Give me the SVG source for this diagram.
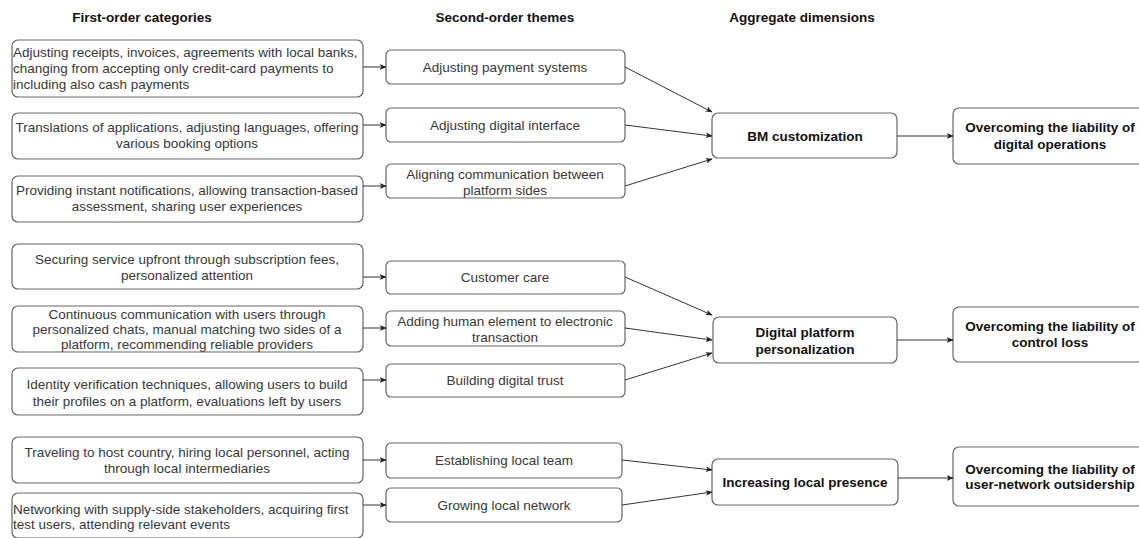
<svg xmlns="http://www.w3.org/2000/svg" width="1139" height="538" viewBox="0 0 1139 538">
<defs>
<marker id="ah" viewBox="0 0 10 10" refX="9" refY="5" markerWidth="7" markerHeight="7" markerUnits="userSpaceOnUse" orient="auto">
<path d="M0,1 L10,5 L0,9 L2.5,5 Z" fill="#222"/>
</marker>
<style>
.bx{fill:#fff;stroke:#666;stroke-width:1.2}
.t{font-family:"Liberation Sans",Arial,sans-serif;font-size:13.5px;fill:#383838}
.c{text-anchor:middle}
.b{font-weight:bold;fill:#111}
.h{font-family:"Liberation Sans",Arial,sans-serif;font-size:13.5px;font-weight:bold;fill:#111;text-anchor:middle}
.e{fill:none;stroke:#333;stroke-width:1;marker-end:url(#ah)}
</style>
</defs>
<rect width="1139" height="538" fill="#fff"/>
<g id="headers">
<text class="h" x="142" y="22">First-order categories</text>
<text class="h" x="505" y="22">Second-order themes</text>
<text class="h" x="802" y="22">Aggregate dimensions</text>
</g>
<g id="f1"><rect class="bx" x="12" y="40" width="351" height="57" rx="6"/>
<text class="t" x="13" y="57">Adjusting receipts, invoices, agreements with local banks,</text>
<text class="t" x="13" y="73">changing from accepting only credit-card payments to</text>
<text class="t" x="13" y="89">including also cash payments</text></g>
<g id="f2"><rect class="bx" x="12" y="113" width="351" height="46" rx="6"/>
<text class="t c" x="187" y="132">Translations of applications, adjusting languages, offering</text>
<text class="t c" x="187" y="148">various booking options</text></g>
<g id="f3"><rect class="bx" x="12" y="176" width="351" height="46" rx="6"/>
<text class="t c" x="187" y="195">Providing instant notifications, allowing transaction-based</text>
<text class="t c" x="187" y="211">assessment, sharing user experiences</text></g>
<g id="f4"><rect class="bx" x="12" y="244" width="351" height="45" rx="6"/>
<text class="t c" x="187" y="264">Securing service upfront through subscription fees,</text>
<text class="t c" x="187" y="280">personalized attention</text></g>
<g id="f5"><rect class="bx" x="12" y="306" width="351" height="46" rx="6"/>
<text class="t c" x="187" y="319">Continuous communication with users through</text>
<text class="t c" x="187" y="334">personalized chats, manual matching two sides of a</text>
<text class="t c" x="187" y="349">platform, recommending reliable providers</text></g>
<g id="f6"><rect class="bx" x="12" y="368" width="351" height="47" rx="6"/>
<text class="t c" x="187" y="389">Identity verification techniques, allowing users to build</text>
<text class="t c" x="187" y="406">their profiles on a platform, evaluations left by users</text></g>
<g id="f7"><rect class="bx" x="12" y="437" width="351" height="46" rx="6"/>
<text class="t c" x="187" y="457">Traveling to host country, hiring local personnel, acting</text>
<text class="t c" x="187" y="473">through local intermediaries</text></g>
<g id="f8"><rect class="bx" x="12" y="493" width="351" height="45" rx="6"/>
<text class="t" x="13" y="514">Networking with supply-side stakeholders, acquiring first</text>
<text class="t" x="13" y="529">test users, attending relevant events</text></g>

<g id="s1"><rect class="bx" x="386" y="50" width="239" height="34" rx="5"/>
<text class="t c" x="505" y="72">Adjusting payment systems</text></g>
<g id="s2"><rect class="bx" x="386" y="108" width="239" height="34" rx="5"/>
<text class="t c" x="505" y="130">Adjusting digital interface</text></g>
<g id="s3"><rect class="bx" x="386" y="164" width="239" height="34" rx="5"/>
<text class="t c" x="505" y="179">Aligning communication between</text>
<text class="t c" x="505" y="195">platform sides</text></g>
<g id="s4"><rect class="bx" x="386" y="261" width="239" height="33" rx="5"/>
<text class="t c" x="505" y="282">Customer care</text></g>
<g id="s5"><rect class="bx" x="386" y="311" width="239" height="35" rx="5"/>
<text class="t c" x="505" y="326">Adding human element to electronic</text>
<text class="t c" x="505" y="342">transaction</text></g>
<g id="s6"><rect class="bx" x="386" y="364" width="239" height="33" rx="5"/>
<text class="t c" x="505" y="385">Building digital trust</text></g>
<g id="s7"><rect class="bx" x="386" y="443" width="236" height="35" rx="5"/>
<text class="t c" x="504" y="465">Establishing local team</text></g>
<g id="s8"><rect class="bx" x="386" y="488" width="236" height="34" rx="5"/>
<text class="t c" x="504" y="510">Growing local network</text></g>

<g id="a1"><rect class="bx" x="712" y="113" width="185" height="45" rx="6"/>
<text class="t c b" x="805" y="141">BM customization</text></g>
<g id="a2"><rect class="bx" x="713" y="317" width="184" height="46" rx="6"/>
<text class="t c b" x="805" y="337">Digital platform</text>
<text class="t c b" x="805" y="354">personalization</text></g>
<g id="a3"><rect class="bx" x="712" y="459" width="186" height="46" rx="6"/>
<text class="t c b" x="805" y="487">Increasing local presence</text></g>

<g id="o1"><rect class="bx" x="953" y="108" width="196" height="56" rx="6"/>
<text class="t c b" x="1050" y="132">Overcoming the liability of</text>
<text class="t c b" x="1050" y="149">digital operations</text></g>
<g id="o2"><rect class="bx" x="953" y="307" width="196" height="55" rx="6"/>
<text class="t c b" x="1050" y="331">Overcoming the liability of</text>
<text class="t c b" x="1050" y="347">control loss</text></g>
<g id="o3"><rect class="bx" x="953" y="447" width="196" height="59" rx="6"/>
<text class="t c b" x="1050" y="474">Overcoming the liability of</text>
<text class="t c b" x="1050" y="489">user-network outsidership</text></g>

<g id="connectors">
<path class="e" d="M363,67 H386"/>
<path class="e" d="M363,125 H386"/>
<path class="e" d="M363,186 H386"/>
<path class="e" d="M363,277 H386"/>
<path class="e" d="M363,328 H386"/>
<path class="e" d="M363,380 H386"/>
<path class="e" d="M363,460 H386"/>
<path class="e" d="M363,505 H386"/>
<path class="e" d="M625,67 L712,112"/>
<path class="e" d="M625,125 L712,136"/>
<path class="e" d="M625,186 L712,159"/>
<path class="e" d="M625,277 L712,315"/>
<path class="e" d="M625,328 L712,340"/>
<path class="e" d="M625,380 L712,353"/>
<path class="e" d="M622,460 L712,470"/>
<path class="e" d="M622,505 L712,492"/>
<path class="e" d="M897,136 H953"/>
<path class="e" d="M897,340 H953"/>
<path class="e" d="M898,478 H953"/>
</g>
</svg>
